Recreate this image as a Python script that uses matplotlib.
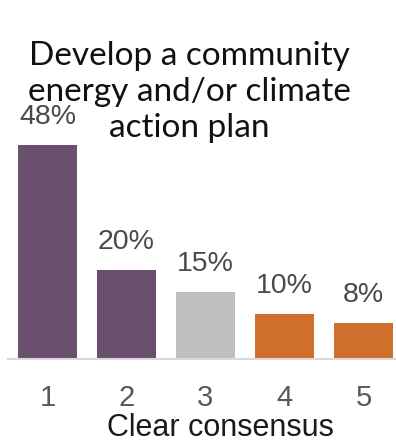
import matplotlib
import matplotlib.pyplot as plt

matplotlib.use('Agg')

categories = ['1', '2', '3', '4', '5']
values = [48, 20, 15, 10, 8]
labels = ['48%', '20%', '15%', '10%', '8%']
bar_colors = ['#6A4F6E', '#6A4F6E', '#BFBFBF', '#CE6F2B', '#CE6F2B']
title = 'Develop a community\nenergy and/or climate\naction plan'
xlabel = 'Clear consensus'

W, H = 396, 441
fig = plt.figure(figsize=(W / 100, H / 100), dpi=100)
ax = fig.add_axes([8 / W, 82 / H, 395 / W, 359 / H])

xs = list(range(len(categories)))
ax.bar(xs, values, width=0.75, color=bar_colors)
ax.set_xlim(-0.5, 4.5)
ax.set_ylim(0, 80.5)

for x, v, lab in zip(xs, values, labels):
    ax.annotate(lab, (x, v), xytext=(0, 11), textcoords='offset points',
                ha='center', va='bottom', fontsize=20.5, color='#4A4A4A',
                family='Liberation Sans')

ax.set_xticks(xs)
ax.set_xticklabels(categories, fontsize=21, color='#595959', family='Liberation Sans')
ax.tick_params(axis='x', length=0, pad=18)
ax.set_yticks([])
for s in ['top', 'right', 'left']:
    ax.spines[s].set_visible(False)
ax.spines['bottom'].set_color('#D9D9D9')
ax.spines['bottom'].set_linewidth(1.5)
ax.patch.set_alpha(0)

fig.text(220 / W, 1 - 436 / H, xlabel, ha='center', va='baseline', fontsize=22,
         color='#1A1A1A', family='Liberation Sans')
fig.text(189 / W, 1 - 92 / H, title, ha='center', va='center', fontsize=24,
         color='#111111', family='Lato', linespacing=1.25,
         multialignment='center')

fig.savefig('out.png', dpi=100)
